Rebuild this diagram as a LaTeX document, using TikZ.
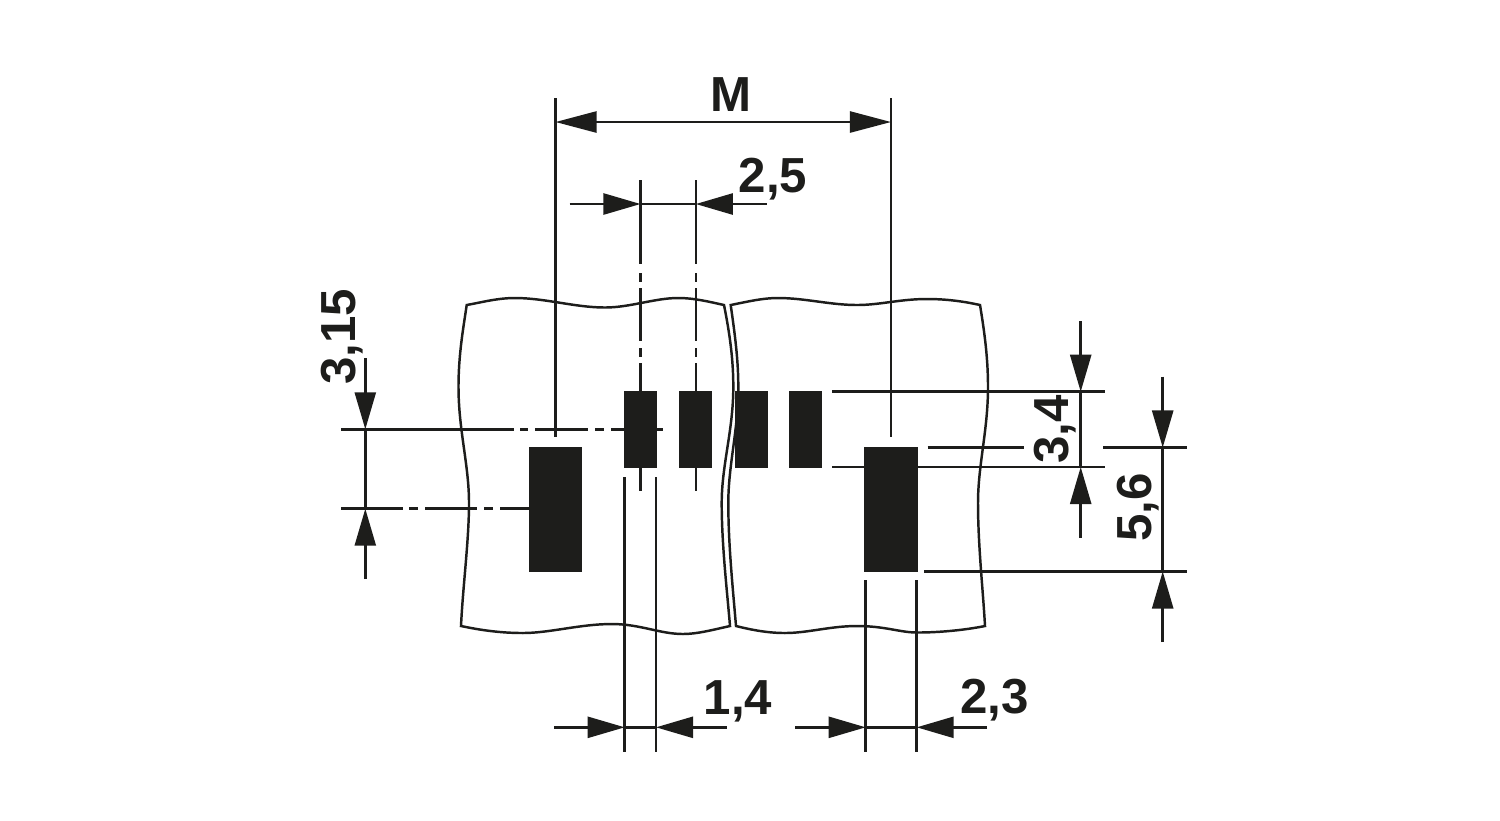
\documentclass[tikz,border=0pt]{standalone}
\usepackage{fontspec}
\usepackage{xcolor}
\usepackage{tikz}
\usetikzlibrary{arrows.meta}
\setmainfont{Liberation Sans}
\definecolor{ink}{HTML}{1D1D1B}
\tikzset{
  sheetline/.style={draw=ink,line width=0.7pt,line join=miter},
  dimline/.style={draw=ink,line width=0.7pt},
  dimtip/.style={-{Triangle[length=0.37cm,width=0.21cm,color=ink]}},
  bigtip/.style={{Triangle[length=0.41cm,width=0.21cm,color=ink]}-{Triangle[length=0.41cm,width=0.21cm,color=ink]}},
  padsmall/.style={fill=ink,inner sep=0pt,minimum width=0.33cm,minimum height=0.77cm},
  padbig/.style={fill=ink,inner sep=0pt,minimum width=0.53cm,minimum height=1.254cm},
  dimlabel/.style={text=ink,inner sep=0pt,anchor=base,font=\fontsize{14}{14}\selectfont\bfseries}
}
\begin{document}
\begin{tikzpicture}[x=0.01cm,y=-0.01cm]
\useasboundingbox (0,0) rectangle (1500,820);
% sheets
\draw[sheetline] (466.7,305) .. controls (483,302) and (498,298) .. (515,298)
  .. controls (545,298) and (575,307.5) .. (605,307.5)
  .. controls (630,307.5) and (655,298) .. (678,298)
  .. controls (695,298) and (710,302) .. (724,305)
  .. controls (730,335) and (733.3,360) .. (733.3,387)
  .. controls (733.3,430) and (721.7,465) .. (721.7,503)
  .. controls (721.7,545) and (727,590) .. (730,626)
  .. controls (712,630) and (697,634) .. (683,634)
  .. controls (660,634) and (640,624) .. (612,624)
  .. controls (580,624) and (550,633) .. (523,633)
  .. controls (500,633) and (480,630) .. (461,626)
  .. controls (463,585) and (469,540) .. (469,503)
  .. controls (469,465) and (458.5,430) .. (458.5,387)
  .. controls (458.5,355) and (463,330) .. (466.7,305) -- cycle;
\draw[sheetline] (730.7,305) .. controls (746,302) and (762,298) .. (778,298)
  .. controls (805,298) and (830,305) .. (857,305)
  .. controls (880,305) and (900,299) .. (927,299)
  .. controls (945,299) and (962,301) .. (980,305)
  .. controls (985,335) and (988,360) .. (988,387)
  .. controls (988,430) and (978,465) .. (978,503)
  .. controls (978,545) and (983,590) .. (985,626)
  .. controls (965,630) and (940,632.5) .. (917,632.5)
  .. controls (900,632.5) and (885,626) .. (857,626)
  .. controls (830,626) and (808,633) .. (785,633)
  .. controls (768,633) and (752,630) .. (736,626)
  .. controls (733,590) and (728.3,545) .. (728.3,503)
  .. controls (728.3,465) and (738.3,430) .. (738.3,387)
  .. controls (738.3,360) and (735,335) .. (730.7,305) -- cycle;
% pads
\node (pad1) at (640.5,429.5) [padsmall] {};
\node (pad2) at (695.8,429.5) [padsmall] {};
\node (pad3) at (751,429.5) [padsmall] {};
\node (pad4) at (805.5,429.5) [padsmall] {};
\node (padL) at (555.5,509.3) [padbig] {};
\node (padR) at (891,509.3) [padbig] {};
% extension lines
\foreach \x in {555.5,891}
  \draw[dimline] (\x,98) -- (\x,437);
\foreach \x in {640.5,695.8}
  \draw[dimline] (\x,180) -- (\x,264) (\x,273) -- (\x,282) (\x,288) -- (\x,341)
    (\x,348) -- (\x,357) (\x,363) -- (\x,391) (\x,468) -- (\x,491);
\foreach \x in {624.7,656}
  \draw[dimline] (\x,477.3) -- (\x,751.7);
\foreach \x in {865.7,916.7}
  \draw[dimline] (\x,580) -- (\x,751.7);
\draw[dimline] (341,429.3) -- (514,429.3) (520,429.3) -- (528,429.3) (535,429.3) -- (588,429.3)
  (595,429.3) -- (604,429.3) (611,429.3) -- (663,429.3);
\draw[dimline] (341,508.7) -- (403,508.7) (409,508.7) -- (418,508.7) (425,508.7) -- (477,508.7)
  (484,508.7) -- (493,508.7) (500,508.7) -- (529,508.7);
\draw[dimline] (832,391.7) -- (1105,391.7);
\draw[dimline] (832,467) -- (865,467) (917,467) -- (1105,467);
\draw[dimline] (927.7,447.5) -- (1024,447.5) (1103,447.5) -- (1187,447.5);
\draw[dimline] (924,571.5) -- (1187,571.5);
% dimension ends
\coordinate (mA) at (555.5,122);
\coordinate (mB) at (891,122);
\coordinate (aS) at (569.5,204);
\coordinate (aA) at (640.5,204);
\coordinate (aB) at (695.8,204);
\coordinate (aE) at (766.7,204);
\coordinate (bS) at (554,727.3);
\coordinate (bA) at (624.7,727.3);
\coordinate (bB) at (656,727.3);
\coordinate (bE) at (726.7,727.3);
\coordinate (cS) at (795,727.3);
\coordinate (cA) at (865.7,727.3);
\coordinate (cB) at (916.7,727.3);
\coordinate (cE) at (987,727.3);
\coordinate (dS) at (365.3,358);
\coordinate (dA) at (365.3,429.3);
\coordinate (dB) at (365.3,508.7);
\coordinate (dE) at (365.3,579);
\coordinate (eS) at (1080.7,321);
\coordinate (eA) at (1080.7,391.7);
\coordinate (eB) at (1080.7,467);
\coordinate (eE) at (1080.7,537.7);
\coordinate (fS) at (1162.7,376.7);
\coordinate (fA) at (1162.7,447.5);
\coordinate (fB) at (1162.7,571.5);
\coordinate (fE) at (1162.7,642);
\draw[dimline,bigtip] (mA) -- (mB);
\foreach \p in {a,b,c,d,e,f} {
  \draw[dimline,dimtip] (\p S) -- (\p A);
  \draw[dimline,dimtip] (\p E) -- (\p B);
  \draw[dimline] (\p A) -- (\p B);
}
% labels
\node (lblM) at (731,111) [dimlabel] {M};
\node (lbl25) at (773,192) [dimlabel] {2,5};
\node (lbl14) at (738,714) [dimlabel] {1,4};
\node (lbl23) at (994.5,713.5) [dimlabel] {2,3};
\node (lbl315) at (355,337) [dimlabel,rotate=90] {3,15};
\node (lbl34) at (1068,429.7) [dimlabel,rotate=90] {3,4};
\node (lbl56) at (1151.7,507.5) [dimlabel,rotate=90] {5,6};
\end{tikzpicture}
\end{document}
